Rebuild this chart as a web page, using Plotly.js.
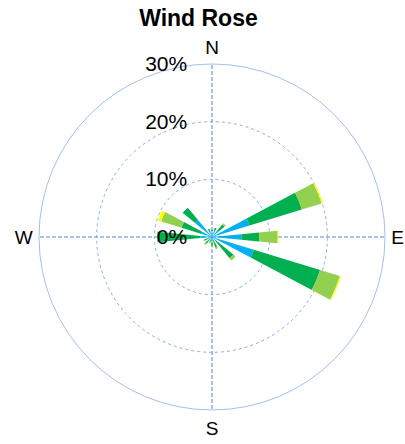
<!DOCTYPE html>
<html>
<head>
<meta charset="utf-8">
<script src="https://cdn.plot.ly/plotly-3.0.1.min.js"></script>
<style>html,body{margin:0;padding:0;background:#fff;}#chart{width:405px;height:444px;}</style>
</head>
<body>
<div id="chart"></div>
<script>
const directions = [0, 22.5, 45, 67.5, 90, 112.5, 135, 157.5, 180, 202.5, 225, 247.5, 270, 292.5, 315, 337.5];
const bandNames = ["0-2 m/s", "2-4 m/s", "4-6 m/s", "6+ m/s"];
const band1 = [1.0, 1.2, 1.5, 6.8, 5.1, 7.6, 0.8, 0.5, 0.6, 0.4, 0.5, 0.6, 2.0, 2.0, 3.8, 1.0];
const band2 = [0.3, 0.5, 1.3, 9.5, 3.1, 12.0, 4.0, 1.4, 0.9, 0.6, 1.0, 0.8, 7.5, 3.5, 2.8, 0.5];
const band3 = [0.0, 0.0, 0.3, 3.6, 3.2, 3.6, 0.5, 0.3, 0.3, 0.2, 0.3, 0.2, 0.0, 3.7, 0.0, 0.0];
const band4 = [0.0, 0.0, 0.0, 0.2, 0.15, 0.2, 0.0, 0.0, 0.0, 0.0, 0.0, 0.0, 0.0, 0.6, 0.0, 0.0];
const bandColors = ["#00B0F0", "#00B050", "#92D050", "#FFFF00"];
const radialTicks = [0, 10, 20, 30];
const radialText = ["0%", "10%", "20%", "30%"];
const compassVals = [0, 90, 180, 270];
const compassText = ["N", "E", "S", "W"];

const bands = [band1, band2, band3, band4];
const traces = bands.map((b, i) => ({
  type: "barpolar",
  r: b,
  theta: directions,
  width: 11,
  name: bandNames[i],
  marker: {color: bandColors[i], line: {width: 0}},
  showlegend: false
}));

const font = "Liberation Sans, Arial, sans-serif";
const layout = {
  width: 405, height: 444,
  margin: {l: 39, r: 20, t: 64, b: 34},
  paper_bgcolor: "#fff",
  showlegend: false,
  title: {text: "<b>Wind Rose</b>", x: 0.49, xanchor: "center", y: 0.96, yanchor: "middle",
          font: {family: font, size: 23, color: "#000"}},
  polar: {
    bgcolor: "rgba(0,0,0,0)",
    barmode: "stack",
    domain: {x: [0, 1], y: [0, 1]},
    angularaxis: {
      direction: "clockwise", rotation: 90,
      tickmode: "array", tickvals: compassVals, ticktext: compassText,
      tickfont: {family: font, size: 19, color: "#000"},
      ticks: "outside", ticklen: 2, tickcolor: "rgba(0,0,0,0)",
      showline: true, linecolor: "#a3c0ee", linewidth: 1,
      gridcolor: "#4f86dc", griddash: "4px,2px", gridwidth: 1
    },
    radialaxis: {
      range: [0, 30], angle: 90, side: "counterclockwise", tickangle: 90,
      tickmode: "array", tickvals: radialTicks, ticktext: radialText,
      tickfont: {family: font, size: 21, color: "#000"},
      ticks: "outside", ticklen: 17, tickcolor: "rgba(0,0,0,0)",
      showline: false,
      gridcolor: "#86aeea", griddash: "dot", gridwidth: 1
    }
  }
};
Plotly.newPlot("chart", traces, layout, {displayModeBar: false, staticPlot: true});
</script>
</body>
</html>
